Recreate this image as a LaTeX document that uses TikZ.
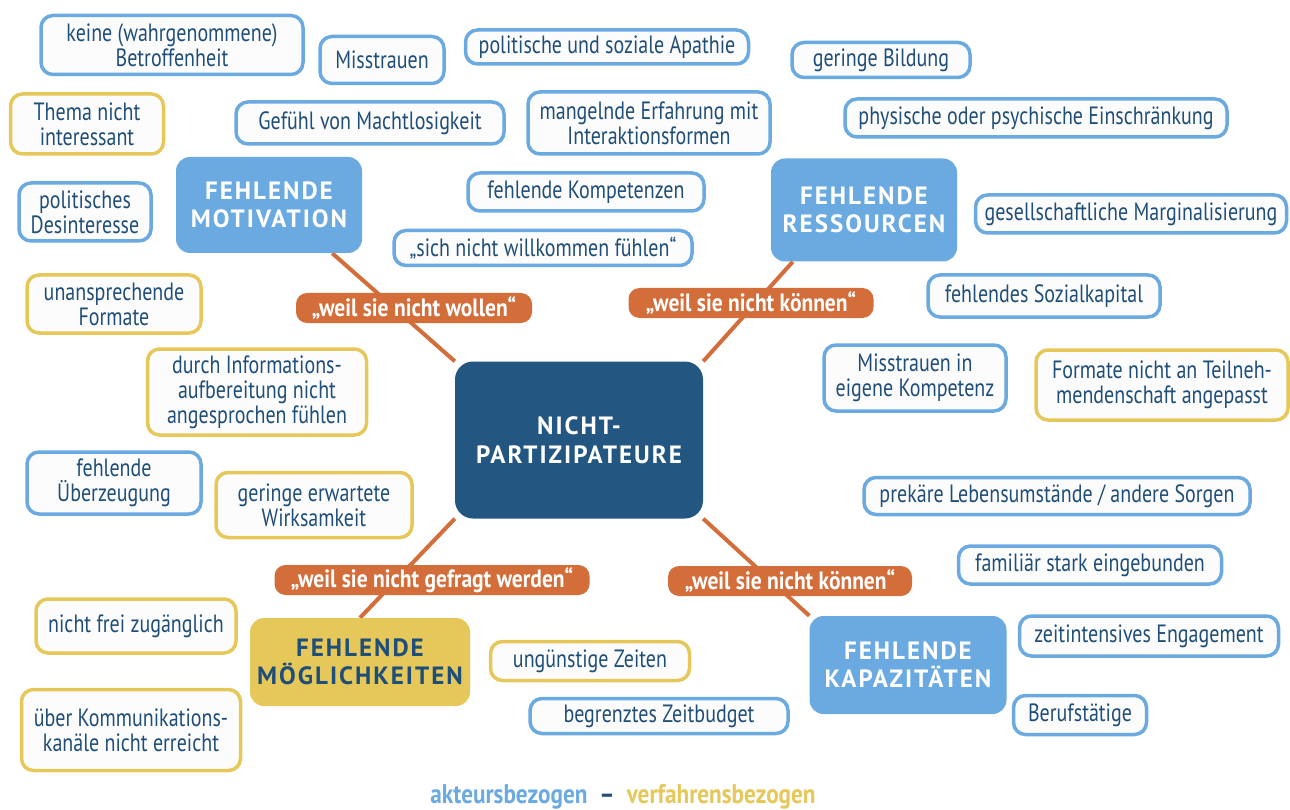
\documentclass[tikz,border=0pt]{standalone}
\usepackage{fontspec}
\setmainfont{PT Sans}[FakeStretch=0.8]
\newfontfamily\headfont{PT Sans}[LetterSpace=8]
\newfontfamily\fettfont{PT Sans}[FakeStretch=0.86]
\usetikzlibrary{backgrounds}
\definecolor{hellblau}{RGB}{106,170,224}
\definecolor{dunkelblau}{RGB}{35,87,130}
\definecolor{schrift}{RGB}{31,78,121}
\definecolor{gelb}{RGB}{229,199,90}
\definecolor{rostrot}{RGB}{211,109,58}
\definecolor{papier}{RGB}{252,252,252}

\begin{document}
\begin{tikzpicture}[x=1pt,y=-1pt]
        \tikzstyle{every node}+=[align=center, inner sep=0pt]
        \tikzstyle{akteur}=[draw=hellblau, line width=3.5pt, fill=papier, rounded corners=12pt, text=schrift, font=\fontsize{25}{25}\selectfont]
        \tikzstyle{verfahren}=[akteur, draw=gelb]
        \tikzstyle{kategorie}=[fill=hellblau, rounded corners=14pt, text=white, font=\headfont\bfseries\fontsize{25}{28}\selectfont]
        \tikzstyle{grund}=[fill=rostrot, rounded corners=11pt, text=white, minimum height=30pt, font=\fettfont\bfseries\fontsize{25}{25}\selectfont]
        \tikzstyle{link}=[draw=rostrot, line width=4pt]
        \useasboundingbox (0,0) rectangle (1290,810);
        % mitte und die vier gruende
        \node [fill=dunkelblau, rounded corners=18pt, minimum width=248pt, minimum height=157pt, text=white, font=\headfont\bfseries\fontsize{25}{29}\selectfont] (np) at (579,440) {NICHT-\\PARTIZIPATEURE};
        \node [kategorie, minimum width=186pt, minimum height=96pt] (mot) at (269,205) {FEHLENDE\\MOTIVATION};
        \node [kategorie, minimum width=186pt, minimum height=103pt] (res) at (864,210) {FEHLENDE\\RESSOURCEN};
        \node [kategorie, fill=gelb, text=schrift, minimum width=220pt, minimum height=88pt] (moeg) at (360,662) {FEHLENDE\\MÖGLICHKEITEN};
        \node [kategorie, minimum width=197pt, minimum height=98pt] (kap) at (908,665) {FEHLENDE\\KAPAZITÄTEN};
        \begin{scope}[on background layer]
        \draw [link] (np.north west) -- ([xshift=-30pt]mot.south east);
        \draw [link] (np.north east) -- ([xshift=22pt]res.south west);
        \draw [link] (np.south west) -- (moeg.north);
        \draw [link] (np.south east) -- (kap.north west);
        \end{scope}
        \node [grund, minimum width=236pt] (wollen) at (414,308) {„weil sie nicht wollen“};
        \node [grund, minimum width=245pt] (koennen1) at (751,303) {„weil sie nicht können“};
        \node [grund, minimum width=315pt] (gefragt) at (432,580) {„weil sie nicht gefragt werden“};
        \node [grund, minimum width=244pt] (koennen2) at (790,581) {„weil sie nicht können“};
        % einzelne ursachen
        \node [akteur, minimum width=262pt, minimum height=59pt] (betroffen) at (172,45) {keine (wahrgenommene)\\Betroffenheit};
        \node [akteur, minimum width=124pt, minimum height=47pt] (misstrauen) at (382,60) {Misstrauen};
        \node [akteur, minimum width=283pt, minimum height=34pt] (apathie) at (607,47) {politische und soziale Apathie};
        \node [akteur, minimum width=178pt, minimum height=35pt] (bildung) at (881,60) {geringe Bildung};
        \node [verfahren, minimum width=153pt, minimum height=60pt] (thema) at (87,124) {Thema nicht\\interessant};
        \node [akteur, minimum width=268pt, minimum height=42pt] (macht) at (370,123) {Gefühl von Machtlosigkeit};
        \node [akteur, minimum width=242pt, minimum height=62pt] (erfahrung) at (649,123) {mangelnde Erfahrung mit\\Interaktionsformen};
        \node [akteur, minimum width=382pt, minimum height=38pt] (einschr) at (1036,118) {physische oder psychische Einschränkung};
        \node [akteur, minimum width=132pt, minimum height=58pt] (desinteresse) at (85,212) {politisches\\Desinteresse};
        \node [akteur, minimum width=236pt, minimum height=38pt] (kompetenz) at (586,192) {fehlende Kompetenzen};
        \node [akteur, minimum width=311pt, minimum height=38pt] (marginal) at (1131,214) {gesellschaftliche Marginalisierung};
        \node [akteur, minimum width=298pt, minimum height=35pt] (willkommen) at (543,248) {„sich nicht willkommen fühlen“};
        \node [verfahren, minimum width=174pt, minimum height=58pt] (formate) at (114,304) {unansprechende\\Formate};
        \node [akteur, minimum width=232pt, minimum height=42pt] (sozial) at (1044,296) {fehlendes Sozialkapital};
        \node [verfahren, minimum width=219pt, minimum height=86pt] (aufbereitung) at (257,392) {durch Informations-\\aufbereitung nicht\\angesprochen fühlen};
        \node [akteur, minimum width=182pt, minimum height=66pt] (eigene) at (915,378) {Misstrauen in\\eigene Kompetenz};
        \node [verfahren, minimum width=252pt, minimum height=70pt] (angepasst) at (1162,385) {Formate nicht an Teilneh-\\mendenschaft angepasst};
        \node [akteur, minimum width=174pt, minimum height=62pt] (ueberzeugung) at (114,483) {fehlende\\Überzeugung};
        \node [verfahren, minimum width=196pt, minimum height=65pt] (wirksam) at (314,505) {geringe erwartete\\Wirksamkeit};
        \node [akteur, minimum width=386pt, minimum height=37pt] (prekaer) at (1057,496) {prekäre Lebensumstände / andere Sorgen};
        \node [akteur, minimum width=263pt, minimum height=38pt] (familie) at (1090,565) {familiär stark eingebunden};
        \node [verfahren, minimum width=200pt, minimum height=54pt] (zugang) at (136,626) {nicht frei zugänglich};
        \node [verfahren, minimum width=199pt, minimum height=39pt] (zeiten) at (590,661) {ungünstige Zeiten};
        \node [akteur, minimum width=259pt, minimum height=40pt] (engagement) at (1149,636) {zeitintensives Engagement};
        \node [verfahren, minimum width=219pt, minimum height=81pt] (kanaele) at (131,730) {über Kommunikations-\\kanäle nicht erreicht};
        \node [akteur, minimum width=258pt, minimum height=35pt] (budget) at (659,716) {begrenztes Zeitbudget};
        \node [akteur, minimum width=133pt, minimum height=39pt] (beruf) at (1080,715) {Berufstätige};
        % legende
        \node [font=\fettfont\bfseries\fontsize{27}{27}\selectfont] (legende) at (623,797) {\textcolor{hellblau}{akteursbezogen}\hspace{12pt}\textcolor{schrift}{–}\hspace{12pt}\textcolor{gelb}{verfahrensbezogen}};
\end{tikzpicture}
\end{document}
